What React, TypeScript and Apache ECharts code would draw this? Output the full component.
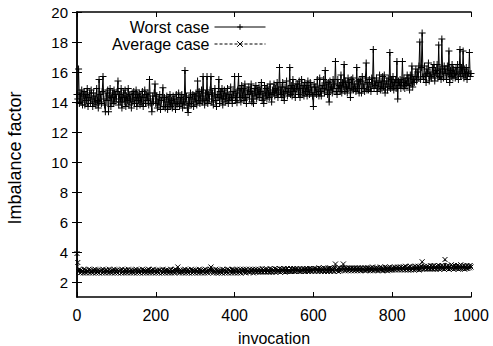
import React, { useEffect, useRef } from "react";
import * as echarts from "echarts";

const xStep = 2;
const yTicks = [2, 4, 6, 8, 10, 12, 14, 16, 18, 20];
const yTitle = "Imbalance factor";
const xTitle = "invocation";

const worstCase = [
  14.5, 14.2, 16.2, 13.9, 14.6, 14.0, 14.8, 13.8, 14.4, 14.7,
  13.8, 14.5, 14.1, 14.9, 13.7, 14.3, 14.6, 13.9, 14.8, 14.2,
  13.7, 14.6, 14.0, 14.4, 13.8, 14.9, 14.1, 13.6, 15.5, 14.0,
  14.5, 13.9, 14.7, 15.7, 14.2, 13.8, 13.35, 14.6, 14.1, 14.8,
  13.35, 14.4, 14.9, 13.7, 14.3, 14.6, 13.9, 14.8, 14.0, 14.5,
  14.2, 14.7, 15.4, 13.8, 14.5, 14.0, 14.9, 13.6, 14.3, 14.6,
  14.0, 14.8, 13.7, 14.4, 14.1, 14.9, 13.8, 14.5, 14.2, 13.6,
  14.6, 14.0, 14.7, 13.9, 14.3, 14.8, 13.7, 14.5, 14.1, 14.6,
  13.8, 14.4, 14.0, 14.7, 13.7, 14.3, 14.8, 13.9, 14.5, 14.1,
  14.6, 13.8, 15.5, 14.2, 13.9, 13.35, 14.4, 14.0, 14.6, 15.2,
  13.9, 14.4, 13.6, 14.2, 13.8, 14.5, 13.5, 14.1, 14.3, 14.95,
  13.7, 14.3, 13.6, 14.0, 14.4, 13.5, 14.2, 13.8, 14.5, 13.7,
  14.1, 13.6, 14.4, 13.9, 14.2, 13.5, 14.5, 13.8, 14.0, 14.6,
  13.7, 14.3, 13.9, 14.5, 13.6, 14.2, 13.8, 16.1, 14.0, 14.4,
  13.6, 13.3, 14.3, 13.9, 14.6, 13.8, 14.2, 14.5, 13.7, 14.4,
  14.0, 14.6, 13.8, 15.4, 14.1, 14.7, 13.9, 14.4, 14.8, 14.0,
  15.7, 14.2, 13.8, 14.6, 14.1, 15.7, 13.9, 14.5, 14.2, 14.8,
  15.7, 14.0, 14.6, 13.8, 14.4, 14.9, 14.1, 13.7, 14.5, 14.3,
  15.5, 13.9, 14.7, 14.2, 14.9, 13.8, 14.4, 14.8, 14.0, 14.6,
  14.2, 14.9, 13.9, 14.5, 14.1, 15.0, 14.3, 13.9, 14.7, 14.4,
  15.7, 14.1, 14.6, 13.95, 14.8, 15.7, 14.3, 14.9, 14.0, 15.1,
  14.4, 14.9, 14.1, 15.2, 14.3, 13.9, 14.8, 14.5, 15.0, 14.2,
  14.7, 15.2, 14.0, 14.6, 13.9, 14.9, 14.4, 15.1, 14.2, 14.8,
  14.5, 15.0, 14.3, 14.7, 15.3, 14.1, 14.6, 13.9, 15.1, 14.4,
  14.9, 14.2, 15.0, 14.6, 14.3, 15.2, 14.5, 14.0, 14.8, 14.6,
  15.2, 14.4, 14.9, 14.6, 15.3, 14.3, 14.8, 16.3, 14.5, 15.0,
  14.3, 15.3, 14.6, 14.1, 15.0, 14.7, 15.4, 14.4, 14.9, 14.6,
  16.3, 14.5, 15.1, 14.4, 15.5, 14.7, 14.9, 14.3, 15.2, 14.8,
  15.2, 14.5, 15.4, 14.3, 14.9, 15.5, 14.6, 15.1, 14.4, 15.3,
  14.7, 15.1, 14.4, 15.4, 14.8, 14.5, 15.3, 14.6, 15.0, 14.4,
  13.7, 15.2, 14.6, 15.0, 14.5, 15.5, 14.8, 14.4, 15.6, 14.7,
  14.4, 15.1, 14.9, 15.5, 14.6, 16.1, 14.8, 15.2, 14.5, 15.3,
  14.0, 15.4, 14.8, 15.0, 14.6, 15.5, 14.9, 15.2, 16.7, 14.7,
  14.5, 15.5, 14.9, 15.1, 14.7, 15.8, 14.6, 15.3, 15.0, 16.5,
  14.7, 15.4, 15.0, 14.6, 15.6, 14.9, 15.3, 14.3, 15.5, 14.8,
  15.6, 14.8, 15.2, 15.0, 14.7, 16.3, 14.9, 15.4, 14.6, 15.5,
  15.4, 14.6, 15.7, 14.9, 15.2, 14.7, 15.6, 16.6, 14.8, 15.3,
  14.8, 15.5, 15.0, 14.7, 15.6, 15.2, 17.5, 14.9, 15.4, 15.1,
  15.6, 14.7, 15.3, 15.0, 15.8, 14.8, 15.4, 14.9, 15.7, 15.0,
  15.8, 14.6, 15.2, 15.4, 14.8, 15.6, 15.0, 17.3, 14.9, 15.5,
  15.0, 15.7, 14.8, 15.3, 15.5, 14.9, 16.7, 14.2, 15.4, 15.1,
  15.5, 14.9, 15.3, 16.7, 15.0, 15.6, 14.9, 15.4, 15.2, 15.8,
  15.1, 15.6, 14.8, 15.8, 15.2, 16.4, 15.0, 15.5, 15.3, 15.7,
  16.2, 15.4, 16.0, 15.6, 16.4, 18.0, 15.5, 16.3, 18.6, 15.7,
  15.5, 16.4, 15.8, 15.3, 16.2, 15.9, 16.6, 15.4, 16.0, 15.7,
  15.6, 16.3, 15.8, 16.5, 15.4, 16.1, 15.9, 16.5, 15.6, 17.8,
  15.7, 16.2, 15.5, 18.2, 16.0, 15.6, 16.4, 15.9, 16.2, 15.5,
  16.4, 15.8, 17.4, 15.3, 16.1, 15.7, 16.5, 15.6, 16.2, 15.9,
  15.6, 16.3, 15.8, 16.5, 15.5, 16.0, 17.5, 15.7, 16.3, 15.9,
  17.4, 15.6, 16.2, 15.8, 16.3, 15.5, 16.0, 15.9, 17.3, 15.7,
  15.9,
];

const averageCase = [
  3.9, 3.3, 2.7, 2.85, 2.6, 2.8, 2.65, 2.75, 2.6, 2.85,
  2.65, 2.8, 2.6, 2.75, 2.7, 2.85, 2.6, 2.8, 2.65, 2.75,
  2.6, 2.8, 2.7, 2.85, 2.6, 2.75, 2.65, 2.8, 2.6, 2.75,
  2.7, 2.8, 2.6, 2.85, 2.65, 2.75, 2.6, 2.8, 2.7, 2.75,
  2.6, 2.85, 2.65, 2.75, 2.6, 2.8, 2.7, 2.85, 2.6, 2.75,
  2.65, 2.8, 2.6, 2.75, 2.7, 2.8, 2.6, 2.85, 2.65, 2.75,
  2.6, 2.8, 2.65, 2.75, 2.6, 2.85, 2.7, 2.75, 2.6, 2.8,
  2.65, 2.75, 2.6, 2.8, 2.7, 2.85, 2.6, 2.75, 2.65, 2.8,
  2.6, 2.75, 2.7, 2.85, 2.6, 2.8, 2.65, 2.75, 2.6, 2.8,
  2.7, 2.85, 2.6, 2.75, 2.65, 2.8, 2.6, 2.85, 2.7, 2.75,
  2.6, 2.8, 2.65, 2.75, 2.6, 2.8, 2.7, 2.75, 2.6, 2.85,
  2.65, 2.75, 2.6, 2.8, 2.7, 2.8, 2.6, 2.75, 2.65, 2.85,
  2.6, 2.75, 2.65, 2.8, 2.6, 2.85, 2.7, 2.75, 3.0, 2.7,
  2.6, 2.8, 2.65, 2.75, 2.6, 2.8, 2.7, 2.85, 2.6, 2.75,
  2.65, 2.8, 2.6, 2.75, 2.7, 2.85, 2.6, 2.8, 2.65, 2.75,
  2.6, 2.8, 2.7, 2.75, 2.6, 2.85, 2.65, 2.8, 2.6, 2.75,
  2.7, 2.8, 2.6, 2.85, 2.65, 2.75, 2.6, 2.8, 2.7, 2.85,
  3.0, 2.7, 2.8, 2.6, 2.75, 2.65, 2.85, 2.6, 2.8, 2.7,
  2.6, 2.8, 2.65, 2.75, 2.6, 2.85, 2.7, 2.8, 2.6, 2.75,
  2.65, 2.85, 2.6, 2.8, 2.7, 2.75, 2.6, 2.85, 2.65, 2.8,
  2.6, 2.8, 2.7, 2.85, 2.6, 2.75, 2.65, 2.85, 2.6, 2.8,
  2.7, 2.85, 2.65, 2.8, 2.6, 2.85, 2.7, 2.75, 2.65, 2.85,
  2.65, 2.8, 2.7, 2.85, 2.6, 2.8, 2.7, 2.85, 2.65, 2.8,
  2.7, 2.85, 2.65, 2.8, 2.7, 2.9, 2.65, 2.8, 2.7, 2.85,
  2.65, 2.85, 2.7, 2.8, 2.65, 2.9, 2.7, 2.85, 2.65, 2.8,
  2.7, 2.9, 2.65, 2.85, 2.7, 2.8, 2.7, 2.9, 2.65, 2.85,
  2.7, 2.85, 2.7, 2.9, 2.65, 2.85, 2.7, 2.9, 2.7, 2.8,
  2.7, 2.9, 2.7, 2.85, 2.75, 2.9, 2.7, 2.85, 2.7, 2.9,
  2.75, 2.85, 2.7, 2.9, 2.7, 2.85, 2.75, 2.9, 2.7, 2.85,
  2.7, 2.9, 2.75, 2.85, 2.7, 2.9, 2.75, 2.9, 2.7, 2.85,
  2.75, 2.9, 2.7, 2.9, 2.75, 2.85, 2.7, 2.95, 2.75, 2.9,
  2.7, 2.9, 2.75, 2.95, 2.7, 2.9, 2.75, 2.85, 2.7, 2.9,
  2.75, 2.95, 2.7, 2.9, 2.75, 2.9, 2.7, 2.95, 3.2, 2.8,
  2.75, 2.9, 2.7, 2.95, 2.75, 2.9, 2.8, 2.95, 3.2, 2.85,
  2.75, 2.95, 2.8, 2.9, 2.75, 2.95, 2.8, 2.9, 2.75, 2.95,
  2.8, 2.9, 2.75, 2.95, 2.8, 2.9, 2.75, 2.95, 2.8, 2.9,
  2.75, 2.95, 2.8, 2.9, 2.8, 2.95, 2.75, 2.9, 2.8, 2.95,
  2.8, 2.9, 2.75, 2.95, 2.8, 3.0, 2.75, 2.9, 2.8, 2.95,
  2.8, 2.95, 2.75, 2.9, 2.8, 3.0, 2.8, 2.95, 2.75, 2.9,
  2.8, 3.0, 2.8, 2.95, 2.75, 2.95, 2.8, 3.0, 2.8, 2.9,
  2.8, 2.95, 2.85, 3.0, 2.8, 2.95, 2.85, 3.0, 2.8, 2.95,
  2.85, 3.0, 2.8, 2.95, 2.85, 3.0, 2.8, 3.05, 2.85, 2.95,
  2.8, 3.0, 2.85, 3.05, 2.8, 2.95, 2.85, 3.0, 2.8, 3.05,
  2.85, 3.0, 2.85, 3.05, 2.8, 3.0, 2.85, 3.05, 3.35, 2.9,
  2.85, 3.05, 2.9, 3.0, 2.85, 3.05, 2.9, 3.0, 2.85, 3.1,
  2.9, 3.05, 2.85, 3.1, 2.9, 3.0, 2.85, 3.05, 2.9, 3.1,
  2.85, 3.05, 2.9, 3.1, 2.9, 3.05, 2.85, 3.5, 2.9, 3.05,
  2.9, 3.1, 2.85, 3.05, 2.9, 3.15, 2.9, 3.05, 2.85, 3.1,
  2.9, 3.05, 2.9, 3.1, 2.85, 3.05, 2.9, 3.15, 2.9, 3.05,
  2.9, 3.1, 2.85, 3.05, 2.9, 3.1, 2.9, 3.05, 2.95, 3.1,
  3.0,
];

const FONT = "'Liberation Sans', Arial, Helvetica, sans-serif";
const PLUS = "path://M5,0L5,10M0,5L10,5";
const CROSS = "path://M0,0L10,10M10,0L0,10";

export default function App() {
  const ref = useRef<HTMLDivElement>(null);
  useEffect(() => {
    if (!ref.current) return;
    const chart = echarts.init(ref.current, undefined, { renderer: "svg" });
    const toPairs = (arr: number[]) => arr.map((v, i) => [i * xStep, v]);
    const axisLine = { show: true, lineStyle: { color: "#000", width: 1.5 } };
    const tick = { show: true, inside: true, length: 5, lineStyle: { color: "#000", width: 1 } };
    const legendBase = {
      right: 222,
      align: "right",
      itemWidth: 51,
      itemHeight: 7,
      selectedMode: false,
      lineStyle: { width: 1 },
      itemStyle: { borderWidth: 1 },
      textStyle: { fontSize: 16, color: "#000", fontFamily: FONT },
    };
    chart.setOption({
      animation: false,
      backgroundColor: "#fff",
      textStyle: { fontFamily: FONT },
      grid: { left: 77, right: 22, top: 12, bottom: 49, outerBoundsMode: "none", containLabel: false },
      graphic: [
        {
          type: "text",
          x: 15,
          y: 158,
          rotation: Math.PI / 2,
          silent: true,
          style: {
            text: yTitle,
            fontSize: 18,
            fontFamily: FONT,
            fill: "#000",
            textAlign: "center",
            textVerticalAlign: "middle",
          },
        },
      ],
      legend: [
        { ...legendBase, data: ["Worst case"], top: 14 },
        { ...legendBase, data: ["Average case"], top: 31 },
      ],
      xAxis: [
        {
          type: "value",
          min: 0,
          max: 1000,
          interval: 200,
          position: "bottom",
          name: xTitle,
          nameLocation: "middle",
          nameGap: 33,
          nameTextStyle: { fontSize: 16, color: "#000", fontFamily: FONT },
          axisLine,
          axisTick: tick,
          splitLine: { show: false },
          axisLabel: {
            fontSize: 16,
            color: "#000",
            margin: 10,
            fontFamily: FONT,
            formatter: (v: number) => String(v),
          },
        },
        {
          type: "value",
          min: 0,
          max: 1000,
          interval: 200,
          position: "top",
          axisLine,
          axisTick: tick,
          splitLine: { show: false },
          axisLabel: { show: false },
        },
      ],
      yAxis: [
        {
          type: "value",
          min: 1,
          max: 20,
          position: "left",
          axisLine,
          axisTick: { ...tick, customValues: yTicks },
          splitLine: { show: false },
          axisLabel: {
            fontSize: 15,
            color: "#000",
            margin: 9,
            fontFamily: FONT,
            customValues: yTicks,
            formatter: (v: number) => String(v),
          },
        },
        {
          type: "value",
          min: 1,
          max: 20,
          position: "right",
          axisLine,
          axisTick: { ...tick, customValues: yTicks },
          splitLine: { show: false },
          axisLabel: { show: false, customValues: yTicks },
        },
      ],
      series: [
        {
          name: "Worst case",
          type: "line",
          xAxisIndex: 0,
          yAxisIndex: 0,
          data: toPairs(worstCase),
          symbol: PLUS,
          symbolSize: 7,
          showAllSymbol: true,
          silent: true,
          lineStyle: { color: "#000", width: 1 },
          itemStyle: { color: "#000", borderColor: "#000", borderWidth: 1 },
          emphasis: { disabled: true },
        },
        {
          name: "Average case",
          type: "line",
          xAxisIndex: 0,
          yAxisIndex: 0,
          data: toPairs(averageCase),
          symbol: CROSS,
          symbolSize: 5,
          showAllSymbol: true,
          silent: true,
          lineStyle: { color: "#000", width: 1, type: [3, 2] },
          itemStyle: { color: "#000", borderColor: "#000", borderWidth: 1 },
          emphasis: { disabled: true },
        },
      ],
    });
    return () => chart.dispose();
  }, []);
  return (
    <div
      ref={ref}
      style={{ position: "fixed", left: 0, top: 0, width: 493, height: 346, background: "#fff" }}
    />
  );
}
